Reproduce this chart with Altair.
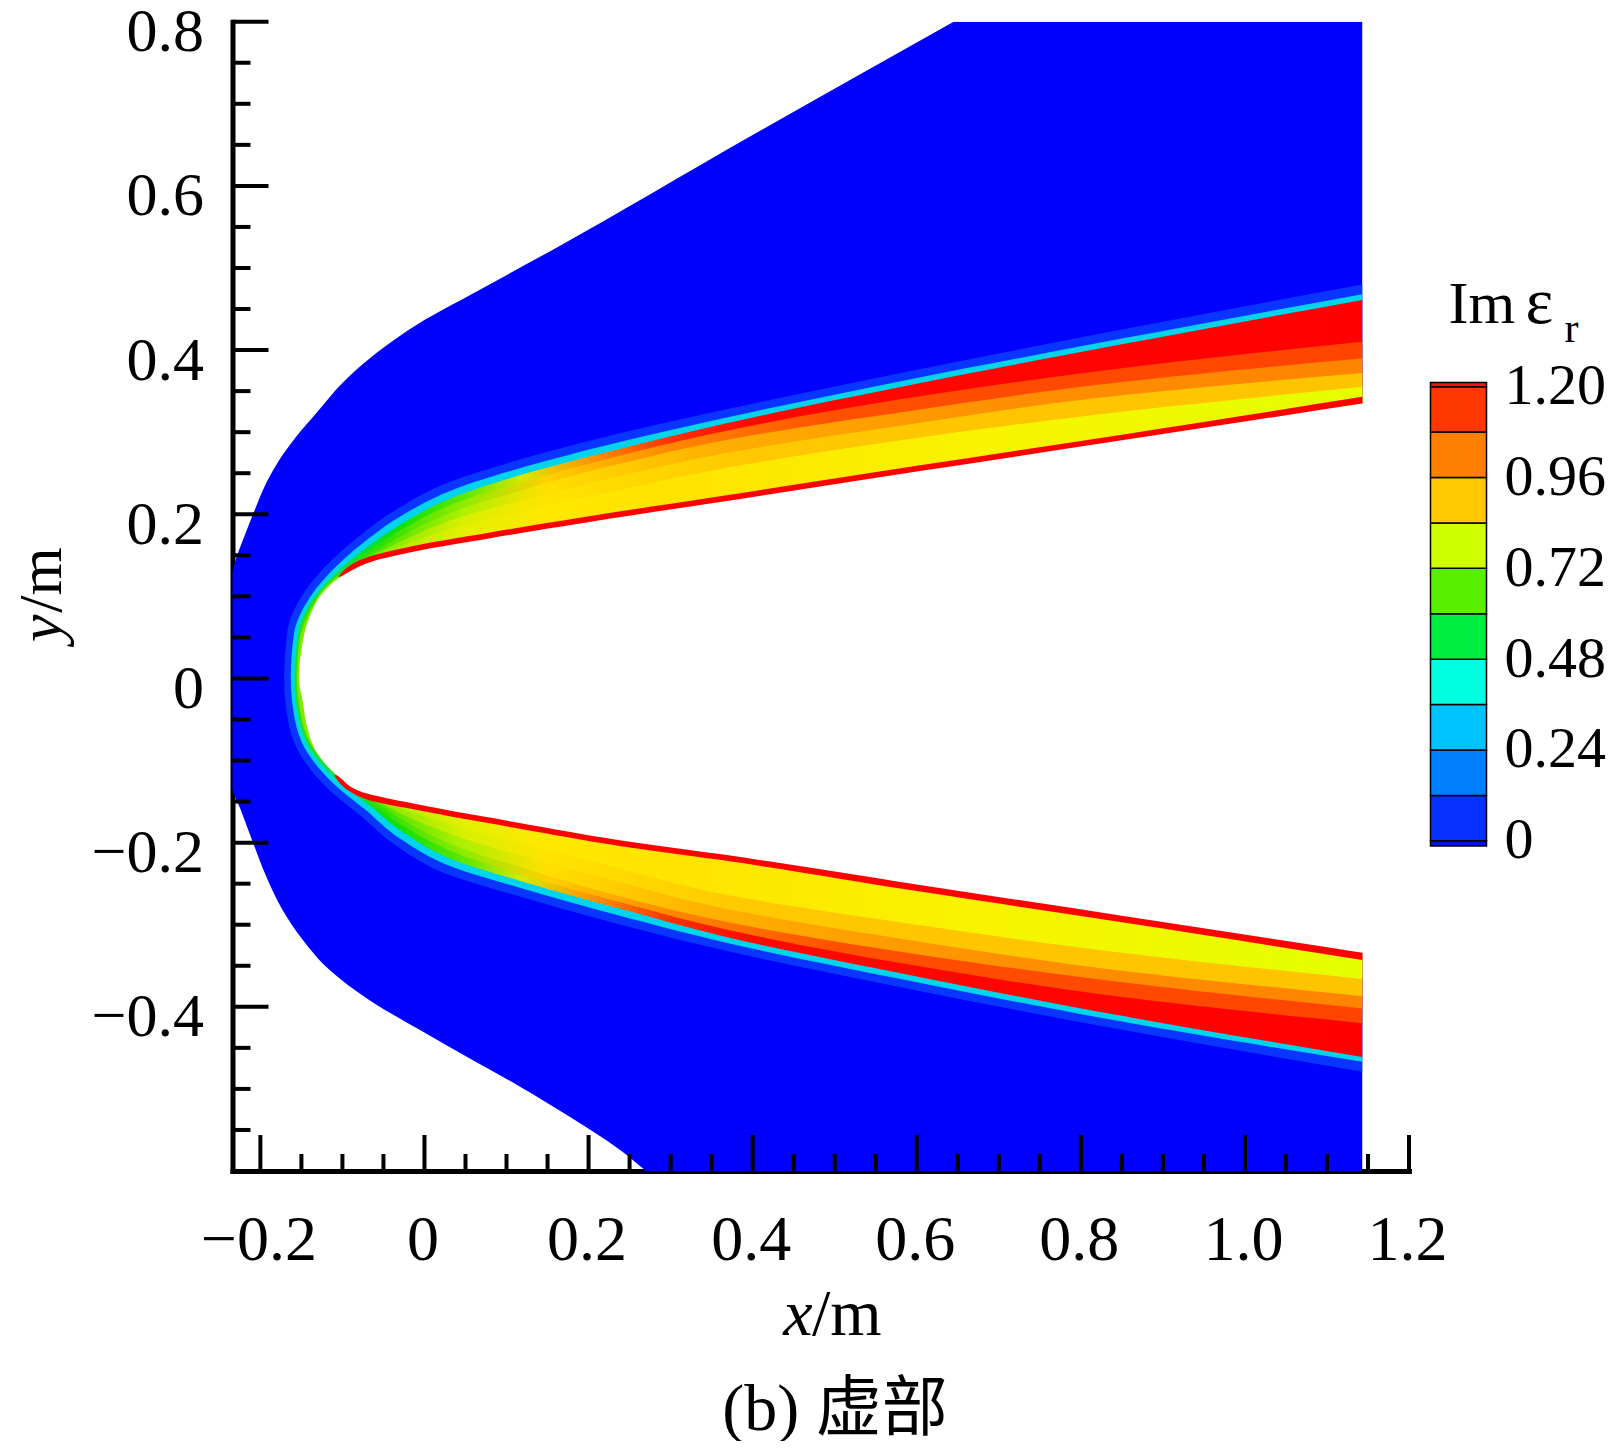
import altair as alt
import pandas as pd

FONT = "Liberation Serif"
CJK_FONT = "Liberation Serif, Noto Sans CJK SC"

X_DOMAIN = [-0.234, 1.2]
Y_DOMAIN = [-0.6, 0.8]
X_END = 1.143          # right end of the computed field

# ---------------- boundaries ----------------
# bow shock (outer edge of the blue region), top to bottom
shock_x = [0.645, 0.400, 0.156, 0.059, -0.006, -0.059, -0.100, -0.132, -0.156, -0.177, -0.192,
           -0.207, -0.220, -0.230, -0.239, -0.245, -0.248, -0.245, -0.236, -0.224, -0.209,
           -0.193, -0.173, -0.148, -0.116, -0.067, -0.006, 0.059, 0.116, 0.177, 0.238, 0.270]
shock_y = [0.800, 0.662, 0.522, 0.469, 0.433, 0.396, 0.360, 0.323, 0.295, 0.266, 0.240,
           0.205, 0.172, 0.145, 0.110, 0.060, 0.000, -0.060, -0.130, -0.160, -0.200,
           -0.241, -0.282, -0.319, -0.355, -0.392, -0.428, -0.465, -0.497, -0.534, -0.574, -0.600]

# light-blue halo just outside the layer
halo_up_x = [-0.171, -0.167, -0.151, -0.122, -0.080, -0.034, 0.032, 0.114, 0.236, 0.36, 0.60, 0.85, 1.143]
halo_up_y = [0.000, 0.058, 0.098, 0.135, 0.173, 0.206, 0.240, 0.266, 0.298, 0.326, 0.376, 0.425, 0.480]
halo_lo_x = [-0.171, -0.166, -0.150, -0.119, -0.077, -0.034, 0.032, 0.114, 0.236, 0.36, 0.60, 0.85, 1.143]
halo_lo_y = [0.000, -0.053, -0.095, -0.133, -0.168, -0.204, -0.240, -0.265, -0.299, -0.330, -0.380, -0.428, -0.479]

# cyan outer edge of the layer
outer_up_x = [-0.163, -0.159, -0.144, -0.116, -0.075, -0.030, 0.035, 0.116, 0.238, 0.36, 0.60, 0.85, 1.143]
outer_up_y = [0.000, 0.055, 0.092, 0.128, 0.165, 0.197, 0.230, 0.256, 0.288, 0.316, 0.366, 0.414, 0.468]
outer_lo_x = [-0.163, -0.158, -0.143, -0.113, -0.072, -0.030, 0.035, 0.116, 0.238, 0.36, 0.60, 0.85, 1.143]
outer_lo_y = [0.000, -0.050, -0.090, -0.126, -0.160, -0.195, -0.230, -0.255, -0.289, -0.320, -0.370, -0.418, -0.467]

# inner edge of the cyan strip (start of the hot, red band)
main_up_x = [-0.159, -0.155, -0.140, -0.111, -0.070, -0.025, 0.038, 0.118, 0.240, 0.36, 0.60, 0.85, 1.143]
main_up_y = [0.000, 0.055, 0.092, 0.126, 0.160, 0.190, 0.222, 0.248, 0.280, 0.309, 0.359, 0.407, 0.461]
main_lo_x = [-0.159, -0.154, -0.139, -0.108, -0.067, -0.025, 0.038, 0.118, 0.240, 0.36, 0.60, 0.85, 1.143]
main_lo_y = [0.000, -0.050, -0.089, -0.123, -0.155, -0.188, -0.222, -0.247, -0.281, -0.313, -0.363, -0.411, -0.461]

# red / red-orange boundary
mid2_up_x = [-0.158, -0.154, -0.1395, -0.1115, -0.069, -0.0235, 0.039, 0.119, 0.240, 0.36, 0.60, 0.85, 1.143]
mid2_up_y = [0.000, 0.053, 0.090, 0.123, 0.155, 0.184, 0.214, 0.239, 0.272, 0.300, 0.343, 0.378, 0.410]
mid2_lo_x = [-0.158, -0.153, -0.138, -0.108, -0.0665, -0.0225, 0.039, 0.119, 0.240, 0.36, 0.60, 0.85, 1.143]
mid2_lo_y = [0.000, -0.048, -0.087, -0.120, -0.151, -0.182, -0.213, -0.239, -0.273, -0.304, -0.350, -0.388, -0.420]

# red-orange / orange boundary
mid_up_x = [-0.157, -0.153, -0.139, -0.112, -0.068, -0.022, 0.040, 0.120, 0.240, 0.36, 0.60, 0.85, 1.143]
mid_up_y = [0.000, 0.050, 0.088, 0.120, 0.150, 0.177, 0.205, 0.230, 0.262, 0.289, 0.327, 0.361, 0.390]
mid_lo_x = [-0.157, -0.152, -0.137, -0.108, -0.066, -0.020, 0.040, 0.120, 0.240, 0.36, 0.60, 0.85, 1.143]
mid_lo_y = [0.000, -0.046, -0.085, -0.117, -0.147, -0.176, -0.205, -0.231, -0.266, -0.295, -0.336, -0.370, -0.402]

# orange / orange-yellow boundary
inner2_up_x = [-0.156, -0.1525, -0.1385, -0.115, -0.070, -0.020, 0.042, 0.122, 0.240, 0.36, 0.60, 0.85, 1.143]
inner2_up_y = [0.000, 0.048, 0.085, 0.117, 0.146, 0.171, 0.196, 0.218, 0.247, 0.273, 0.311, 0.345, 0.372]
inner2_lo_x = [-0.156, -0.1515, -0.1375, -0.111, -0.0705, -0.019, 0.042, 0.122, 0.240, 0.36, 0.60, 0.85, 1.143]
inner2_lo_y = [0.000, -0.043, -0.082, -0.113, -0.142, -0.169, -0.193, -0.217, -0.249, -0.279, -0.320, -0.356, -0.387]

# orange-yellow / yellow boundary
inner_up_x = [-0.155, -0.152, -0.138, -0.118, -0.072, -0.018, 0.045, 0.125, 0.240, 0.36, 0.60, 0.85, 1.143]
inner_up_y = [0.000, 0.045, 0.082, 0.113, 0.142, 0.165, 0.186, 0.205, 0.230, 0.255, 0.293, 0.325, 0.355]
inner_lo_x = [-0.155, -0.151, -0.138, -0.114, -0.075, -0.018, 0.045, 0.125, 0.240, 0.36, 0.60, 0.85, 1.143]
inner_lo_y = [0.000, -0.040, -0.080, -0.110, -0.138, -0.162, -0.182, -0.203, -0.232, -0.262, -0.300, -0.334, -0.366]

# thin red strip along the wall
edge_up_x = [-0.105, -0.062, -0.006, 0.075, 0.197, 0.36, 0.60, 0.85, 1.143]
edge_up_y = [0.124, 0.150, 0.163, 0.177, 0.197, 0.222, 0.259, 0.297, 0.343]
edge_lo_x = [-0.110, -0.072, -0.006, 0.116, 0.238, 0.36, 0.60, 0.85, 1.143]
edge_lo_y = [-0.118, -0.147, -0.161, -0.183, -0.204, -0.221, -0.259, -0.297, -0.343]

# body wall (white region)
body_up_x = [-0.153, -0.150, -0.140, -0.124, -0.095, -0.059, -0.006, 0.075, 0.197, 0.36, 0.60, 0.85, 1.143]
body_up_y = [0.000, 0.035, 0.075, 0.104, 0.128, 0.144, 0.156, 0.170, 0.190, 0.215, 0.252, 0.290, 0.335]
body_lo_x = [-0.153, -0.148, -0.144, -0.128, -0.104, -0.071, -0.006, 0.116, 0.238, 0.36, 0.60, 0.85, 1.143]
body_lo_y = [0.000, -0.030, -0.055, -0.095, -0.120, -0.140, -0.154, -0.176, -0.197, -0.214, -0.251, -0.289, -0.334]

# colours along each band of the layer (x position, colour)
main_colors = [(-0.159, "#00E0B0"), (-0.10, "#00E060"), (-0.03, "#10E000"), (0.05, "#60E800"),
               (0.12, "#D8E800"), (0.20, "#FF9800"), (0.30, "#FF3000"), (0.40, "#FF0800"), (1.143, "#FF0000")]
mid2_colors = [(-0.158, "#10E040"), (-0.05, "#30E000"), (0.05, "#90EC00"), (0.15, "#FFD000"),
               (0.30, "#FF8800"), (0.50, "#FF5000"), (1.143, "#FF4400")]
mid_colors = [(-0.157, "#30E000"), (-0.05, "#50E400"), (0.05, "#B0F000"), (0.15, "#FFE000"),
              (0.35, "#FFB000"), (0.70, "#FF9000"), (1.143, "#FF8400")]
inner2_colors = [(-0.156, "#60E400"), (-0.05, "#88EA00"), (0.05, "#D8F000"), (0.15, "#FFE400"),
                 (0.40, "#FFC800"), (1.143, "#FFC400")]
inner_colors = [(-0.155, "#80E800"), (-0.05, "#A8EE00"), (0.05, "#E4F000"), (0.15, "#FFE800"),
                (0.30, "#FFE400"), (0.70, "#F8F400"), (1.143, "#E4FF00")]
BLUE = "#0000FF"
HALO = "#0A34FF"
CYAN = "#00D4EC"
RED = "#FF0000"

# ---------------- axes and colour bar values ----------------
x_major = [-0.2, 0.0, 0.2, 0.4, 0.6, 0.8, 1.0, 1.2]
x_minor = [-0.15, -0.1, -0.05, 0.05, 0.1, 0.15, 0.25, 0.3, 0.35, 0.45, 0.5, 0.55, 0.65, 0.7, 0.75,
           0.85, 0.9, 0.95, 1.05, 1.1, 1.15]
y_major = [-0.4, -0.2, 0.0, 0.2, 0.4, 0.6, 0.8]
y_minor = [-0.55, -0.5, -0.45, -0.35, -0.3, -0.25, -0.15, -0.1, -0.05, 0.05, 0.1, 0.15, 0.25, 0.3,
           0.35, 0.45, 0.5, 0.55, 0.65, 0.7, 0.75]

cb_lo = [-0.014, 0.00, 0.12, 0.24, 0.36, 0.48, 0.60, 0.72, 0.84, 0.96, 1.08, 1.20]
cb_hi = [0.00, 0.12, 0.24, 0.36, 0.48, 0.60, 0.72, 0.84, 0.96, 1.08, 1.20, 1.211]
cb_colors = ["#0010E8", "#0530FF", "#0080FF", "#00C4FF", "#00FFE0", "#00EE40", "#58F000",
             "#D0FF00", "#FFC800", "#FF8000", "#FF3800", "#FF1010"]
cb_labels = [0.0, 0.24, 0.48, 0.72, 0.96, 1.2]

# ---------------- layout (pixels) ----------------
W, H = 1176.5, 1149.3

def ring(xu, yu, xl, yl, right=X_END):
    xs = list(reversed(xl)) + xu[1:]
    ys = list(reversed(yl)) + yu[1:]
    return pd.DataFrame({"x": xs, "y": ys, "xr": right})

def grad(stops):
    xmin = stops[0][0]
    span = X_END - xmin
    return alt.Gradient(
        gradient="linear", x1=0, x2=1, y1=0, y2=0,
        stops=[alt.GradientStop(offset=round((x - xmin) / span, 4), color=c) for x, c in stops])

LABEL_EXPR = "datum.value == 0 ? '0' : replace(format(datum.value, '.1f'), '-', '\u2212')"
xs = alt.Scale(domain=X_DOMAIN, nice=False, zero=False)
ys = alt.Scale(domain=Y_DOMAIN, nice=False, zero=False)
x_axis = alt.Axis(values=x_major, title=None, ticks=False, tickSize=0, grid=False,
                  labelExpr=LABEL_EXPR,
                  labelFont=FONT, labelFontSize=64, labelColor="black", labelPadding=88,
                  labelBaseline="alphabetic", labelFlush=False, labelOverlap=False, labelOffset=-2,
                  domainColor="black", domainWidth=5, domainCap="square")
y_axis = alt.Axis(values=y_major, title=None, ticks=False, tickSize=0, grid=False,
                  labelExpr=LABEL_EXPR,
                  labelFont=FONT, labelFontSize=62, labelColor="black", labelPadding=29,
                  labelBaseline="middle", labelFlush=False, labelOverlap=False, labelOffset=10,
                  domainColor="black", domainWidth=5, domainCap="square")

def X(f):
    return alt.X(f, type="quantitative", scale=xs, axis=x_axis)

def Y(f):
    return alt.Y(f, type="quantitative", scale=ys, axis=y_axis)

def area(df, color):
    return alt.Chart(df).mark_area(orient="horizontal", clip=True, color=color,
                                   interpolate="monotone").encode(
        y=Y("y"), x=X("x"), x2="xr")

shock_df = pd.DataFrame({"x": shock_x, "y": shock_y, "xr": X_END}).sort_values("y")
layers = [
    area(shock_df, BLUE),
    area(ring(halo_up_x, halo_up_y, halo_lo_x, halo_lo_y), HALO),
    area(ring(outer_up_x, outer_up_y, outer_lo_x, outer_lo_y), CYAN),
    area(ring(main_up_x, main_up_y, main_lo_x, main_lo_y), grad(main_colors)),
    area(ring(mid2_up_x, mid2_up_y, mid2_lo_x, mid2_lo_y), grad(mid2_colors)),
    area(ring(mid_up_x, mid_up_y, mid_lo_x, mid_lo_y), grad(mid_colors)),
    area(ring(inner2_up_x, inner2_up_y, inner2_lo_x, inner2_lo_y), grad(inner2_colors)),
    area(ring(inner_up_x, inner_up_y, inner_lo_x, inner_lo_y), grad(inner_colors)),
]
edge_df = pd.concat([
    pd.DataFrame({"x": edge_up_x, "y": edge_up_y, "xr": X_END, "part": "up"}),
    pd.DataFrame({"x": edge_lo_x, "y": edge_lo_y, "xr": X_END, "part": "lo"}),
]).sort_values("y")
layers.append(alt.Chart(edge_df).mark_area(orient="horizontal", clip=True, color=RED,
                                           interpolate="monotone").encode(
    y=Y("y"), x=X("x"), x2="xr", detail="part:N"))
layers.append(area(ring(body_up_x, body_up_y, body_lo_x, body_lo_y, right=X_DOMAIN[1]), "#FFFFFF"))

# inward tick marks
def xticks(vals, length):
    return alt.Chart(pd.DataFrame({"v": vals})).mark_rule(color="black", strokeWidth=4).encode(
        x=X("v"), y=alt.value(H), y2=alt.value(H - length))

def yticks(vals, length):
    return alt.Chart(pd.DataFrame({"v": vals})).mark_rule(color="black", strokeWidth=4).encode(
        y=Y("v"), x=alt.value(0), x2=alt.value(length))

layers += [xticks(x_major, 36), xticks(x_minor, 17), yticks(y_major, 36), yticks(y_minor, 18)]

# text pieces
def label(text, x, y, size=66, style="normal", align="left", angle=0, font=FONT):
    return alt.Chart(pd.DataFrame({"t": [text]})).mark_text(
        font=font, fontSize=size, fontStyle=style, align=align, baseline="alphabetic",
        angle=angle, color="black").encode(text="t:N", x=alt.value(x), y=alt.value(y))

layers += [
    label("x", 550.8, 1313.3, style="italic"),
    label("/m", 579.5, 1313.3),
    label("y", -172.0, 620.3, size=62, style="italic", angle=270),
    label("/m", -172.0, 591.0, size=62, angle=270),
    label("(b) 虚部", 602.5, 1408.3, align="center", font=CJK_FONT),
    label("Im", 1216.0, 301.0, size=60),
    label("\u03b5", 1293.0, 301.0, size=66),
    label("r", 1332.0, 320.5, size=42),
]

field = alt.layer(*layers)

cb_df = pd.DataFrame({"lo": cb_lo, "hi": cb_hi, "c": cb_colors})
colorbar = alt.Chart(cb_df).mark_rect(stroke="black", strokeWidth=1.5).encode(
    y=alt.Y("lo:Q", scale=alt.Scale(domain=[0, 1.2], range=[819.1, 365.0], nice=False, zero=False),
            axis=alt.Axis(orient="right", values=cb_labels, title=None, ticks=False, domain=False,
                          grid=False, offset=95, labelPadding=0, labelFont=FONT, labelFontSize=58,
                          labelColor="black", labelBaseline="middle", labelFlush=False,
                          labelOverlap=False,
                          labelExpr="datum.value == 0 ? '0' : format(datum.value, '.2f')")),
    y2="hi:Q",
    x=alt.value(1198.0), x2=alt.value(1254.0),
    color=alt.Color("c:N", scale=None),
)

chart = alt.layer(field, colorbar).resolve_scale(y="independent").properties(
    width=W, height=H,
    autosize=alt.AutoSizeParams(type="none"),
    padding={"left": 224.5, "top": 13.7, "right": 205, "bottom": 270},
    background="white",
).configure_view(stroke=None)

chart.save("out.html", embed_options={"renderer": "svg", "actions": False})
